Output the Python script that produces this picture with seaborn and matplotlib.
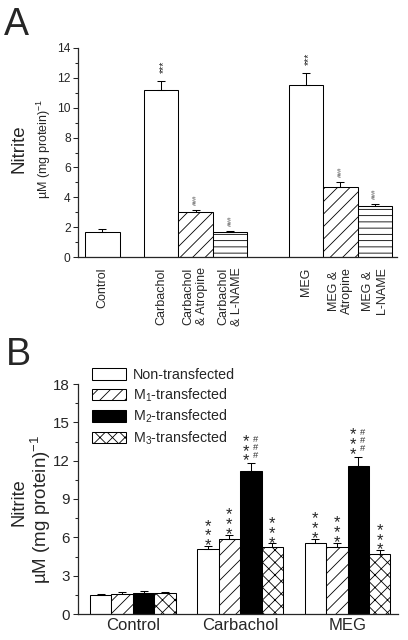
import numpy as np
import pandas as pd
import matplotlib
matplotlib.use('Agg')
import matplotlib.pyplot as plt
from matplotlib.ticker import MultipleLocator
import seaborn as sns

sns.set_style('ticks')
plt.rcParams['font.family'] = ['Liberation Sans', 'DejaVu Sans']
plt.rcParams['mathtext.default'] = 'regular'
plt.rcParams['hatch.linewidth'] = 0.8

# panel A data
treatments = ['Control', 'Carbachol', 'Carbachol\n& Atropine', 'Carbachol\n& L-NAME',
              'MEG', 'MEG &\nAtropine', 'MEG &\nL-NAME']
nitrite_a = [1.69, 11.18, 3.04, 1.69, 11.52, 4.71, 3.44]
sem_a = [0.18, 0.61, 0.11, 0.07, 0.78, 0.29, 0.09]
marks_a = ['', '***', '###', '###', '***', '###', '###']

# panel B data
stimuli = ['Control', 'Carbachol', 'MEG']
cell_lines = ['Non-transfected', 'M$_1$-transfected', 'M$_2$-transfected', 'M$_3$-transfected']
non_transfected = [1.45, 5.10, 5.55]
m1_transfected = [1.60, 5.90, 5.28]
m2_transfected = [1.68, 11.23, 11.55]
m3_transfected = [1.65, 5.22, 4.68]
sem_non = [0.10, 0.20, 0.30]
sem_m1 = [0.12, 0.30, 0.30]
sem_m2 = [0.12, 0.55, 0.77]
sem_m3 = [0.10, 0.30, 0.30]

# layout / styles
slots_a = [0, 1.7, 2.7, 3.7, 5.9, 6.9, 7.9]
hatch_a = ['', '', '//', '--', '', '//', '--']
fills_b = ['white', 'white', 'black', 'white']
hatch_b = ['', '//', '', 'xx']

fig = plt.figure(figsize=(408 / 75, 640 / 75), dpi=75)
axA = fig.add_axes([78 / 408, 1 - 257 / 640, 319 / 408, 209 / 640])
axB = fig.add_axes([78 / 408, 1 - 614 / 640, 320 / 408, 230 / 640])

# ---- A ----
dfA = pd.DataFrame({'slot': slots_a, 'nitrite': nitrite_a})
sns.barplot(data=dfA, x='slot', y='nitrite', native_scale=True, width=1, color='white',
            saturation=1, edgecolor='black', linewidth=1, errorbar=None, ax=axA)
bars = list(axA.patches)
for b, h in zip(bars, hatch_a):
    b.set_hatch(h)
cx = [b.get_x() + b.get_width() / 2 for b in bars]
axA.errorbar(cx, nitrite_a, yerr=[np.zeros(len(sem_a)), sem_a], fmt='none',
             ecolor='black', elinewidth=1, capsize=3.4, capthick=1)
for x, v, s, m in zip(cx, nitrite_a, sem_a, marks_a):
    if m == '***':
        axA.annotate(m, (x, v + s), xytext=(3, 8), textcoords='offset points', rotation=90,
                     ha='center', va='bottom', fontsize=10)
    elif m:
        axA.annotate(m, (x, v + s), xytext=(0, 5), textcoords='offset points', rotation=90,
                     ha='center', va='bottom', fontsize=6, color='#444444')
axA.set_xlim(-0.71, 8.54)
axA.set_ylim(0, 14)
axA.set_xticks(slots_a, labels=treatments, rotation=90)
axA.yaxis.set_major_locator(MultipleLocator(2))
axA.yaxis.set_minor_locator(MultipleLocator(1))
axA.tick_params(axis='y', which='major', direction='out', length=5, width=1, labelsize=11.5, pad=2)
axA.tick_params(axis='y', which='minor', direction='out', length=2.5, width=1)
axA.tick_params(axis='x', length=0, labelsize=12, pad=10)
axA.set_xlabel('')
axA.set_ylabel('')
sns.despine(ax=axA)
for sp in axA.spines.values():
    sp.set_linewidth(1.2)

# ---- B ----
rows = []
for line, vals in zip(cell_lines, [non_transfected, m1_transfected, m2_transfected, m3_transfected]):
    for st, v in zip(stimuli, vals):
        rows.append({'stimulus': st, 'cell_line': line, 'nitrite': v})
dfB = pd.DataFrame(rows)
sns.barplot(data=dfB, x='stimulus', y='nitrite', hue='cell_line', order=stimuli,
            hue_order=cell_lines, palette=fills_b, saturation=1, edgecolor='black',
            linewidth=1, errorbar=None, width=0.8, legend=False, ax=axB)
conts = list(axB.containers)
for c, h in zip(conts, hatch_b):
    for b in c:
        b.set_hatch(h)
axB.legend(handles=conts, labels=cell_lines, loc='upper left',
           bbox_to_anchor=(92 / 408, 1 - 368 / 640), bbox_transform=fig.transFigure,
           frameon=False, fontsize=13.7, handlelength=2.4, handleheight=0.84,
           labelspacing=0.3, handletextpad=0.45, borderpad=0, borderaxespad=0)

stars = '*\n*\n*'
hashes = '#\n#\n#'
sems_b = [sem_non, sem_m1, sem_m2, sem_m3]
vals_b = [non_transfected, m1_transfected, m2_transfected, m3_transfected]
for i, (c, vals, sems) in enumerate(zip(conts, vals_b, sems_b)):
    xs = [b.get_x() + b.get_width() / 2 for b in c]
    axB.errorbar(xs, vals, yerr=[np.zeros(len(sems)), sems], fmt='none',
                 ecolor='black', elinewidth=1, capsize=3.4, capthick=1)
    for j, (x, v, s) in enumerate(zip(xs, vals, sems)):
        if stimuli[j] == 'Control':
            continue
        if i == 2:
            axB.annotate(stars, (x, v + s), xytext=(-4.6, -2), textcoords='offset points',
                         ha='center', va='baseline', fontsize=16, linespacing=0.575)
            axB.annotate(hashes, (x, v + s), xytext=(4.6, 5), textcoords='offset points',
                         ha='center', va='baseline', fontsize=9, linespacing=0.85,
                         color='#333333')
        else:
            axB.annotate(stars, (x, v + s), xytext=(0, -4), textcoords='offset points',
                         ha='center', va='baseline', fontsize=16, linespacing=0.575)
axB.set_xlim(-0.51, 2.47)
axB.set_ylim(0, 18)
axB.yaxis.set_major_locator(MultipleLocator(3))
axB.yaxis.set_minor_locator(MultipleLocator(1.5))
axB.tick_params(axis='y', which='major', direction='out', length=5, width=1, labelsize=14.5, pad=3)
axB.tick_params(axis='y', which='minor', direction='out', length=2.5, width=1)
axB.tick_params(axis='x', length=0, labelsize=16, pad=4)
axB.set_xlabel('')
axB.set_ylabel('')
sns.despine(ax=axB)
for sp in axB.spines.values():
    sp.set_linewidth(1.2)

# labels
fig.text(19 / 408, 1 - 149 / 640, 'Nitrite', rotation=90, ha='center', va='center', fontsize=18)
fig.text(44 / 408, 1 - 149 / 640, 'µM (mg protein)$^{-1}$', rotation=90, ha='center',
         va='center', fontsize=12)
fig.text(19 / 408, 1 - 502 / 640, 'Nitrite', rotation=90, ha='center', va='center', fontsize=17.5)
fig.text(41 / 408, 1 - 509 / 640, 'µM (mg protein)$^{-1}$', rotation=90, ha='center',
         va='center', fontsize=18)
fig.text(4 / 408, 1 - 35 / 640, 'A', ha='left', va='baseline', fontsize=36)
fig.text(6 / 408, 1 - 365 / 640, 'B', ha='left', va='baseline', fontsize=36)

fig.savefig('out.png', dpi=75)
